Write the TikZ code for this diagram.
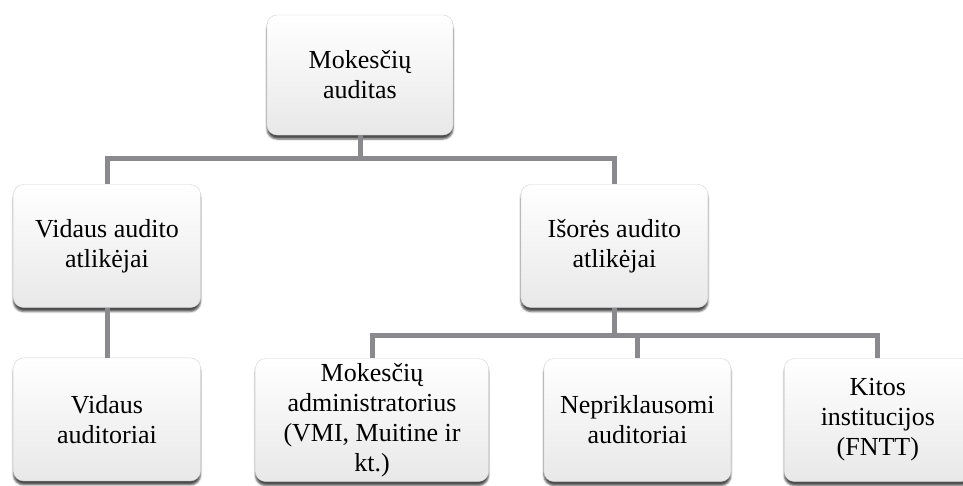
\documentclass[tikz,border=0pt]{standalone}
\usepackage{fontspec}
\setmainfont{Liberation Serif}
\usetikzlibrary{positioning,shadows.blur}

\definecolor{linkgray}{RGB}{138,138,142}

\tikzset{
  box/.style={rectangle, rounded corners=10pt, align=center,
    minimum width=187pt, minimum height=123pt, inner sep=2pt,
    top color=white, bottom color=gray!18, draw=gray!35,
    blur shadow={shadow xshift=0pt, shadow yshift=-4pt, shadow opacity=70},
    font=\fontsize{26}{30}\selectfont},
  link/.style={draw=linkgray, line width=5pt},
}

\begin{document}
\begin{tikzpicture}[x=1pt, y=1pt]
\useasboundingbox (0,0) rectangle (963,-485);

\node[box, minimum width=186pt, minimum height=120pt] (audit) at (360,-75) {Mokesčių\\auditas};
\node[box] (vidaus) at (107,-246) {Vidaus audito\\atlikėjai};
\node[box, right=320pt of vidaus] (isores) {Išorės audito\\atlikėjai};
\node[box, below=50pt of vidaus] (vaud) {Vidaus\\auditoriai};
\node[box, minimum width=233pt] (madm) at (372,-420) {Mokesčių\\administratorius\\(VMI, Muitine ir\\kt.)};
\node[box, right=55pt of madm] (nepr) {Nepriklausomi\\auditoriai};
\node[box, right=53pt of nepr] (kitos) {Kitos\\institucijos\\(FNTT)};

\coordinate (j1) at (360,-158);
\coordinate (j2) at (isores.south |- 0,-335);

\draw[link] (audit.south) -- (j1);
\draw[link] (vidaus.north) |- (j1) -| (isores.north);
\draw[link] (vidaus.south) -- (vaud.north);
\draw[link] (isores.south) -- (j2);
\draw[link] (madm.north) |- (j2) -| (kitos.north);
\draw[link] (j2 -| nepr.north) -- (nepr.north);
\end{tikzpicture}
\end{document}
